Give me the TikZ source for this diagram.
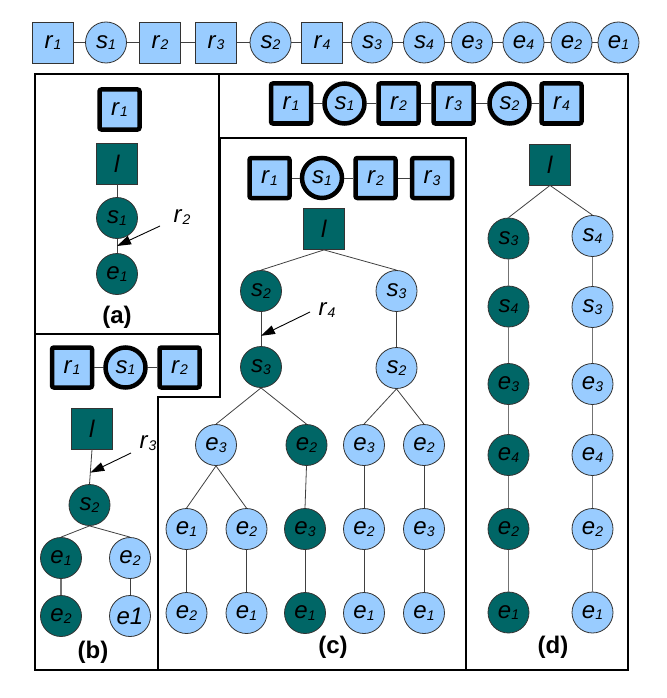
\documentclass[tikz,border=0pt]{standalone}
\usepackage{fontspec}
\setmainfont{Liberation Sans}
\usetikzlibrary{arrows.meta,calc}
\definecolor{lb}{HTML}{99CCFF}
\definecolor{dk}{HTML}{006666}
\definecolor{bd}{HTML}{333333}
\newcommand\nm[2]{\textit{#1}\raisebox{-1.5pt}{\fontsize{14}{14}\selectfont\textit{#2}}}
\tikzset{
 nd/.style={minimum size=41pt, inner sep=0pt, draw=bd, line width=0.8pt, font=\fontsize{24}{24}\selectfont},
 lsq/.style={nd, rectangle, fill=lb},
 lci/.style={nd, circle, fill=lb},
 dsq/.style={nd, rectangle, fill=dk},
 dci/.style={nd, circle, fill=dk},
 heavy/.style={draw=black, line width=4.5pt, rounded corners=2pt, minimum size=40pt},
 link/.style={draw=black!75, line width=0.8pt},
 tlink/.style={draw=black!55, line width=1.3pt},
 frame/.style={draw=black, line width=1.2pt},
 ptr/.style={draw=black, line width=0.9pt, -{Triangle[length=14pt,width=9pt]}},
 panel/.style={font=\fontsize{24}{24}\selectfont\bfseries, inner sep=0pt},
 note/.style={font=\fontsize{24}{24}\selectfont, inner sep=0pt},
}
\begin{document}
\begin{tikzpicture}[x=1pt,y=-1pt]
\useasboundingbox (0,0) rectangle (666,698);
% frames
\draw[frame] (35,74) rectangle (628,670);
\draw[frame] (219,74) -- (219,334);
\draw[frame] (35,334) -- (220,334);
\draw[frame] (158,670) -- (158,397) -- (220,397) -- (220,138) -- (466,138) -- (466,670);
% top row
\node[lsq] (t1) at (53,42.5) {\nm{r}{1}};
\node[lci] (t2) at (106,42.5) {\nm{s}{1}};
\node[lsq] (t3) at (160,42.5) {\nm{r}{2}};
\node[lsq] (t4) at (216,42.5) {\nm{r}{3}};
\node[lci] (t5) at (270.5,42.5) {\nm{s}{2}};
\node[lsq] (t6) at (322,42.5) {\nm{r}{4}};
\node[lci] (t7) at (372,42.5) {\nm{s}{3}};
\node[lci] (t8) at (424,42.5) {\nm{s}{4}};
\node[lci] (t9) at (472,42.5) {\nm{e}{3}};
\node[lci] (t10) at (523.5,42.5) {\nm{e}{4}};
\node[lci] (t11) at (571.5,42.5) {\nm{e}{2}};
\node[lci] (t12) at (618.5,42.5) {\nm{e}{1}};
\foreach \i/\j in {1/2,2/3,3/4,4/5,5/6,6/7,7/8,8/9,9/10,10/11,11/12}
  \draw[link] (t\i) -- (t\j);
% panel (a)
\node[lsq,heavy] (a1) at (119.5,109.5) {\nm{r}{1}};
\node[dsq] (al) at (117,163.5) {\textit{l}};
\node[dci] (as1) at (117,218) {\nm{s}{1}};
\node[dci] (ae1) at (117,274) {\nm{e}{1}};
\draw[link] (al.south) -- (as1.north);
\draw[link] (as1.south) -- (ae1.north);
\coordinate (am) at ($(as1.south)!0.5!(ae1.north)$);
\node[note] (ar2) at (182,217) {\nm{r}{2}};
\coordinate (at) at (160,226);
\draw[ptr] (at) -- (am);
\node[panel] (alab) at (117,317) {(a)};
% panel (b)
\node[lsq,heavy] (b1) at (72,367.5) {\nm{r}{1}};
\node[lci,heavy] (b2) at (125.5,367.5) {\nm{s}{1}};
\node[lsq,heavy] (b3) at (179.5,367.5) {\nm{r}{2}};
\draw[link] (b1) -- (b2);
\draw[link] (b2) -- (b3);
\node[dsq] (bl) at (92,428.5) {\textit{l}};
\node[dci] (bs2) at (89.5,505) {\nm{s}{2}};
\node[dci] (be1) at (61,558) {\nm{e}{1}};
\node[lci] (be2) at (130,558) {\nm{e}{2}};
\node[dci] (be2b) at (61,616) {\nm{e}{2}};
\node[lci] (be1b) at (130,616) {\textit{e1}};
\draw[link] (bl.south) -- (bs2.north);
\draw[link] (bs2.south) -- (be1.north);
\draw[link] (bs2.south) -- (be2.north);
\draw[tlink] (be1.south) -- (be2b.north);
\draw[link] (be2.south) -- (be1b.north);
\coordinate (bm) at ($(bl.south)!0.67!(bs2.north)$);
\node[note] (br3) at (148,443) {\nm{r}{3}};
\coordinate (bt) at (131,453);
\draw[ptr] (bt) -- (bm);
\node[panel] (blab) at (93,652) {(b)};
% panel (c)
\node[lsq,heavy] (c1) at (269.5,178) {\nm{r}{1}};
\node[lci,heavy] (c2) at (322,178) {\nm{s}{1}};
\node[lsq,heavy] (c3) at (375.5,178) {\nm{r}{2}};
\node[lsq,heavy] (c4) at (432,178) {\nm{r}{3}};
\draw[link] (c1) -- (c2);
\draw[link] (c2) -- (c3);
\draw[link] (c3) -- (c4);
\node[dsq] (cl) at (324,229) {\textit{l}};
\node[dci] (cs2) at (261,291) {\nm{s}{2}};
\node[lci] (cs3) at (396.5,291) {\nm{s}{3}};
\node[dci] (cs3d) at (261,367) {\nm{s}{3}};
\node[lci] (cs2l) at (396.5,368) {\nm{s}{2}};
\node[lci] (ce3a) at (216,445) {\nm{e}{3}};
\node[dci] (ce2d) at (306.5,445) {\nm{e}{2}};
\node[lci] (ce3b) at (364,445) {\nm{e}{3}};
\node[lci] (ce2b) at (424,445) {\nm{e}{2}};
\node[lci] (ce1a) at (186.5,529) {\nm{e}{1}};
\node[lci] (ce2a) at (246.5,529) {\nm{e}{2}};
\node[dci] (ce3d) at (305,529) {\nm{e}{3}};
\node[lci] (ce2c) at (364,529) {\nm{e}{2}};
\node[lci] (ce3c) at (424,529) {\nm{e}{3}};
\node[lci] (ce2x) at (186.5,613) {\nm{e}{2}};
\node[lci] (ce1x) at (246.5,613) {\nm{e}{1}};
\node[dci] (ce1d) at (305,613) {\nm{e}{1}};
\node[lci] (ce1y) at (364,613) {\nm{e}{1}};
\node[lci] (ce1z) at (424,613) {\nm{e}{1}};
\foreach \p/\c in {cl/cs2,cl/cs3,cs2/cs3d,cs3/cs2l,cs3d/ce3a,cs3d/ce2d,cs2l/ce3b,cs2l/ce2b,
  ce3a/ce1a,ce3a/ce2a,ce2d/ce3d,ce3b/ce2c,ce2b/ce3c,ce1a/ce2x,ce2a/ce1x,ce3d/ce1d,ce2c/ce1y,ce3c/ce1z}
  \draw[link] (\p.south) -- (\c.north);
\coordinate (cm) at ($(cs2.south)!0.7!(cs3d.north)$);
\node[note] (cr4) at (327,310) {\nm{r}{4}};
\coordinate (ct) at (310,312);
\draw[ptr] (ct) -- (cm);
\node[panel] (clab) at (333,647) {(c)};
% panel (d)
\node[lsq,heavy] (d1) at (291,103.5) {\nm{r}{1}};
\node[lci,heavy] (d2) at (344.5,103.5) {\nm{s}{1}};
\node[lsq,heavy] (d3) at (398.5,103.5) {\nm{r}{2}};
\node[lsq,heavy] (d4) at (453.5,103.5) {\nm{r}{3}};
\node[lci,heavy] (d5) at (509.5,103.5) {\nm{s}{2}};
\node[lsq,heavy] (d6) at (561.5,103.5) {\nm{r}{4}};
\foreach \i/\j in {1/2,2/3,3/4,4/5,5/6}
  \draw[link] (d\i) -- (d\j);
\node[dsq] (dl) at (550,164.5) {\textit{l}};
\node[dci] (dL1) at (508.5,238.5) {\nm{s}{3}};
\node[dci] (dL2) at (508.5,306.5) {\nm{s}{4}};
\node[dci] (dL3) at (508.5,384) {\nm{e}{3}};
\node[dci] (dL4) at (508.5,455) {\nm{e}{4}};
\node[dci] (dL5) at (508.5,529) {\nm{e}{2}};
\node[dci] (dL6) at (508.5,612.5) {\nm{e}{1}};
\node[lci] (dR1) at (592.5,236) {\nm{s}{4}};
\node[lci] (dR2) at (592.5,307) {\nm{s}{3}};
\node[lci] (dR3) at (592.5,384) {\nm{e}{3}};
\node[lci] (dR4) at (592.5,455) {\nm{e}{4}};
\node[lci] (dR5) at (592.5,529) {\nm{e}{2}};
\node[lci] (dR6) at (592.5,612.5) {\nm{e}{1}};
\draw[link] (dl.south) -- (dL1.north);
\draw[link] (dl.south) -- (dR1.north);
\foreach \i/\j in {1/2,2/3,3/4,4/5,5/6} {
  \draw[tlink] (dL\i.south) -- (dL\j.north);
  \draw[tlink] (dR\i.south) -- (dR\j.north);
}
\node[panel] (dlab) at (553,647) {(d)};
\end{tikzpicture}
\end{document}
